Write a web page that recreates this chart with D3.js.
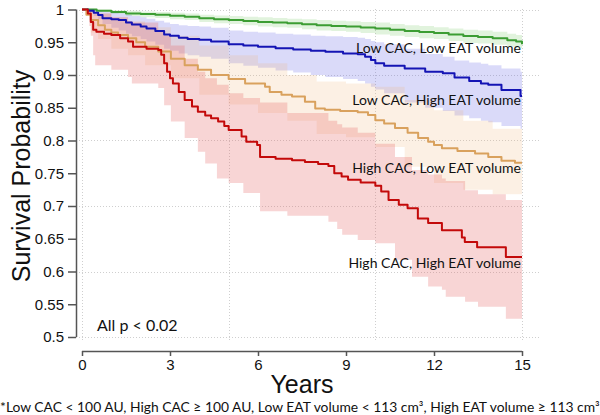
<!DOCTYPE html>
<html><head><meta charset="utf-8">
<script src="https://cdn.jsdelivr.net/npm/d3@7"></script>
<style>body{margin:0;background:#fff}svg{display:block}</style>
</head><body>
<svg id="c" width="600" height="415"></svg>
<script>
// ---- data ----
const yTicks = [0.5,0.55,0.6,0.65,0.7,0.75,0.8,0.85,0.9,0.95,1];
const yTickLabels = ["0.5","0.55","0.6","0.65","0.7","0.75","0.8","0.85","0.9","0.95","1"];
const yGrid = [0.5,0.6,0.7,0.8,0.9,1];
const xTicks = [0,3,6,9,12,15];
const xGrid = [0,5,10,15];
const groups = ["Low CAC, Low EAT volume","Low CAC, High EAT volume","High CAC, Low EAT volume","High CAC, High EAT volume"];

// Low CAC, Low EAT
const greenT = [0,0.5,1,1.5,2,2.5,3,3.5,4,4.5,5,5.5,6,6.5,7,7.5,8,8.5,9,9.5,10,10.5,11,11.5,12,12.5,13,13.5,14,14.5,14.8,15];
const greenS = [1,0.998,0.996,0.994,0.993,0.992,0.9905,0.989,0.9865,0.985,0.984,0.9825,0.981,0.98,0.979,0.9775,0.976,0.975,0.974,0.9725,0.971,0.969,0.967,0.9655,0.964,0.962,0.9595,0.958,0.956,0.953,0.951,0.947];
const greenLo = [1,0.996,0.993,0.99,0.988,0.987,0.985,0.984,0.981,0.979,0.978,0.976,0.974,0.973,0.972,0.97,0.968,0.967,0.966,0.964,0.962,0.96,0.958,0.956,0.955,0.952,0.949,0.948,0.946,0.943,0.941,0.937];
const greenHi = [1,1,0.999,0.998,0.997,0.996,0.995,0.994,0.992,0.991,0.99,0.989,0.988,0.987,0.986,0.985,0.984,0.983,0.982,0.981,0.98,0.978,0.976,0.975,0.973,0.971,0.969,0.968,0.966,0.963,0.961,0.957];

// Low CAC, High EAT
const blueT = [0,0.2,0.4,0.55,0.7,1,1.25,1.5,1.7,2,2.2,2.5,2.8,3,3.3,3.6,4,4.4,5,5.5,6,6.6,7.2,7.8,8.3,8.9,9.4,9.65,9.85,10,10.3,11,11.7,12.3,12.7,13.2,13.6,13.85,14.3,14.95,15];
const blueS = [1,0.998,0.995,0.9915,0.9865,0.985,0.984,0.98,0.977,0.974,0.971,0.967,0.962,0.96,0.957,0.955,0.954,0.951,0.947,0.945,0.943,0.941,0.939,0.937,0.9355,0.933,0.9315,0.928,0.923,0.918,0.914,0.91,0.905,0.9025,0.896,0.891,0.887,0.885,0.877,0.868,0.868];
const blueLo = [1,0.996,0.99,0.985,0.978,0.972,0.968,0.963,0.959,0.955,0.951,0.946,0.94,0.937,0.933,0.93,0.928,0.925,0.918,0.914,0.911,0.907,0.904,0.9,0.897,0.894,0.891,0.887,0.882,0.878,0.872,0.858,0.85,0.845,0.838,0.834,0.83,0.828,0.822,0.818,0.818];
const blueHi = [1,1,0.999,0.998,0.996,0.995,0.994,0.992,0.99,0.988,0.986,0.983,0.98,0.978,0.976,0.975,0.974,0.972,0.968,0.966,0.965,0.963,0.962,0.96,0.959,0.958,0.957,0.955,0.952,0.95,0.947,0.94,0.932,0.928,0.922,0.919,0.917,0.915,0.91,0.905,0.905];

// High CAC, Low EAT
const orangeT = [0,0.15,0.3,0.55,0.78,1,1.23,1.57,1.85,2.15,2.6,3.03,3.5,3.95,4.4,5,5.56,6.24,6.4,6.8,7.16,7.6,7.95,8.28,8.8,9.4,9.75,10,10.3,10.67,11.1,11.46,11.8,12,12.27,12.8,13.4,13.85,14.3,14.76,15];
const orangeS = [1,0.992,0.984,0.976,0.969,0.965,0.961,0.956,0.95,0.943,0.936,0.925,0.915,0.908,0.9,0.894,0.887,0.882,0.874,0.87,0.867,0.859,0.849,0.847,0.845,0.843,0.839,0.831,0.826,0.819,0.812,0.804,0.798,0.793,0.788,0.784,0.78,0.775,0.769,0.766,0.766];
const orangeBandT = [0,0.3,0.55,1,1.57,2.15,3.03,4,5,6,7,8,9,10,11,12,13,14,15];
const orangeLo = [1,0.965,0.955,0.94,0.93,0.915,0.895,0.87,0.855,0.842,0.83,0.81,0.805,0.79,0.76,0.735,0.725,0.718,0.707];
const orangeHi = [1,0.998,0.994,0.988,0.982,0.973,0.96,0.945,0.93,0.918,0.9,0.89,0.887,0.882,0.862,0.846,0.83,0.818,0.811];

// High CAC, High EAT
const redT = [0,0.2,0.3,0.38,0.49,0.75,1,1.3,1.57,1.74,2.2,2.6,2.7,2.8,2.9,3,3.1,3.3,3.5,3.75,3.95,4.2,4.4,4.64,4.85,5,5.44,5.6,5.97,6.07,6.6,7.16,7.6,8.05,8.4,8.6,8.85,9.07,9.5,10,10.2,10.45,10.8,11.1,11.45,11.8,12.27,12.95,13.05,13.47,14.45,15];
const redS = [1,0.994,0.981,0.969,0.966,0.963,0.961,0.956,0.951,0.943,0.94,0.938,0.931,0.918,0.905,0.895,0.887,0.874,0.862,0.852,0.844,0.838,0.834,0.829,0.822,0.816,0.806,0.798,0.793,0.775,0.772,0.77,0.767,0.764,0.761,0.75,0.745,0.74,0.736,0.731,0.722,0.709,0.702,0.6965,0.681,0.674,0.663,0.652,0.645,0.637,0.622,0.622];
const redBandT = [0,0.25,0.3,0.38,0.45,1,1.57,1.7,2.6,2.8,3.03,3.5,3.95,4.2,4.6,5,5.5,6.07,7,8.4,8.7,8.87,9.4,10,10.67,11.25,11.8,12.27,12.4,13.06,13.5,14.45,15];
const redLo = [1,0.975,0.96,0.93,0.915,0.908,0.897,0.887,0.88,0.854,0.829,0.804,0.783,0.765,0.742,0.735,0.72,0.692,0.685,0.676,0.665,0.656,0.648,0.643,0.618,0.592,0.577,0.572,0.5615,0.554,0.546,0.528,0.528];
const redHi = [1,1,0.998,0.996,0.994,0.988,0.982,0.98,0.968,0.96,0.945,0.925,0.905,0.895,0.885,0.872,0.865,0.858,0.842,0.83,0.825,0.82,0.812,0.795,0.775,0.755,0.748,0.742,0.738,0.724,0.718,0.709,0.702];

const footnote = "*Low CAC < 100 AU, High CAC \u2265 100 AU, Low EAT volume < 113 cm\u00b3, High EAT volume \u2265 113 cm\u00b3";
const pText = "All p < 0.02";

// ---- drawing ----
const svg = d3.select("#c");
const x = d3.scaleLinear().domain([0,15]).range([82,522]);
const y = d3.scaleLinear().domain([0.5,1]).range([337,9.5]);

const series = [
  {name:groups[0], t:greenT, s:greenS, bt:greenT, lo:greenLo, hi:greenHi, line:"#3c9d33", band:"rgb(120,200,100)", op:0.22, lx:521, ly:53},
  {name:groups[1], t:blueT, s:blueS, bt:blueT, lo:blueLo, hi:blueHi, line:"#1414b4", band:"rgb(100,100,230)", op:0.24, lx:521, ly:105},
  {name:groups[2], t:orangeT, s:orangeS, bt:orangeBandT, lo:orangeLo, hi:orangeHi, line:"#d9a15d", band:"rgb(240,180,120)", op:0.2, lx:521, ly:173},
  {name:groups[3], t:redT, s:redS, bt:redBandT, lo:redLo, hi:redHi, line:"#c30a0a", band:"rgb(230,100,100)", op:0.27, lx:521, ly:268}
];

// grid
const grid = svg.append("g").attr("stroke","#cfcfcf").attr("stroke-dasharray","1,2").attr("stroke-width",1);
grid.selectAll(".hg").data(yGrid).join("line")
  .attr("x1",76).attr("x2",539).attr("y1",d=>Math.round(y(d))+0.5).attr("y2",d=>Math.round(y(d))+0.5);
grid.selectAll(".vg").data(xGrid).join("line")
  .attr("y1",9).attr("y2",340).attr("x1",d=>Math.round(x(d))+0.5).attr("x2",d=>Math.round(x(d))+0.5);

// bands
const area = d3.area().curve(d3.curveStepAfter).x(d=>x(d[0])).y0(d=>y(d[1])).y1(d=>y(d[2]));
series.forEach(s=>{
  const pts = s.bt.map((t,i)=>[t,s.lo[i],s.hi[i]]);
  svg.append("path").attr("d",area(pts)).attr("fill",s.band).attr("fill-opacity",s.op);
});
// lines
const line = d3.line().curve(d3.curveStepAfter).x(d=>x(d[0])).y(d=>y(d[1]));
series.forEach(s=>{
  const pts = s.t.map((t,i)=>[t,s.s[i]]);
  svg.append("path").attr("d",line(pts)).attr("fill","none").attr("stroke",s.line).attr("stroke-width",2).attr("stroke-linejoin","round");
});

// y axis
const yAxis = d3.axisLeft(y).tickValues(yTicks).tickFormat((d,i)=>yTickLabels[i]).tickSize(8).tickPadding(4);
const gy = svg.append("g").attr("transform","translate(76,0)").call(yAxis);
gy.select(".domain").attr("d","M0.5,"+y(1)+"V"+y(0.5)).attr("stroke","#555").attr("stroke-width",1.5);
gy.selectAll(".tick line").attr("stroke","#555").attr("stroke-width",1.5);
gy.selectAll("text").attr("font-family","'Liberation Sans', Arial, sans-serif").attr("font-size",15).attr("fill","#111");

// x axis
const xAxis = d3.axisBottom(x).tickValues(xTicks).tickFormat(d3.format("d")).tickSize(5).tickPadding(3);
const gx = svg.append("g").attr("transform","translate(0,351)").call(xAxis);
gx.select(".domain").attr("d","M"+x(0)+",0.5H"+x(15)).attr("stroke","#555").attr("stroke-width",1.5);
gx.selectAll(".tick line").attr("stroke","#555").attr("stroke-width",1.5);
gx.selectAll("text").attr("font-family","'Liberation Sans', Arial, sans-serif").attr("font-size",15).attr("fill","#111");

// axis titles
svg.append("text").attr("transform","translate(30,176) rotate(-90)").attr("text-anchor","middle")
  .attr("font-family","'Liberation Sans', Arial, sans-serif").attr("font-size",25).attr("fill","#111").text("Survival Probability");
svg.append("text").attr("x",302).attr("y",393).attr("text-anchor","middle")
  .attr("font-family","'Liberation Sans', Arial, sans-serif").attr("font-size",25).attr("fill","#111").text("Years");

// curve labels
const lab = "Lato, 'Noto Sans', sans-serif";
series.forEach(s=>{
  svg.append("text").attr("x",s.lx).attr("y",s.ly).attr("text-anchor","end")
    .attr("font-family",lab).attr("font-size",14).attr("fill","#111").text(s.name);
});
svg.append("text").attr("x",97).attr("y",331).attr("font-family",lab).attr("font-size",16).attr("fill","#111").text(pText);
svg.append("text").attr("x",0).attr("y",412).attr("font-family",lab).attr("font-size",13.85).attr("fill","#111").text(footnote);
</script>
</body></html>
